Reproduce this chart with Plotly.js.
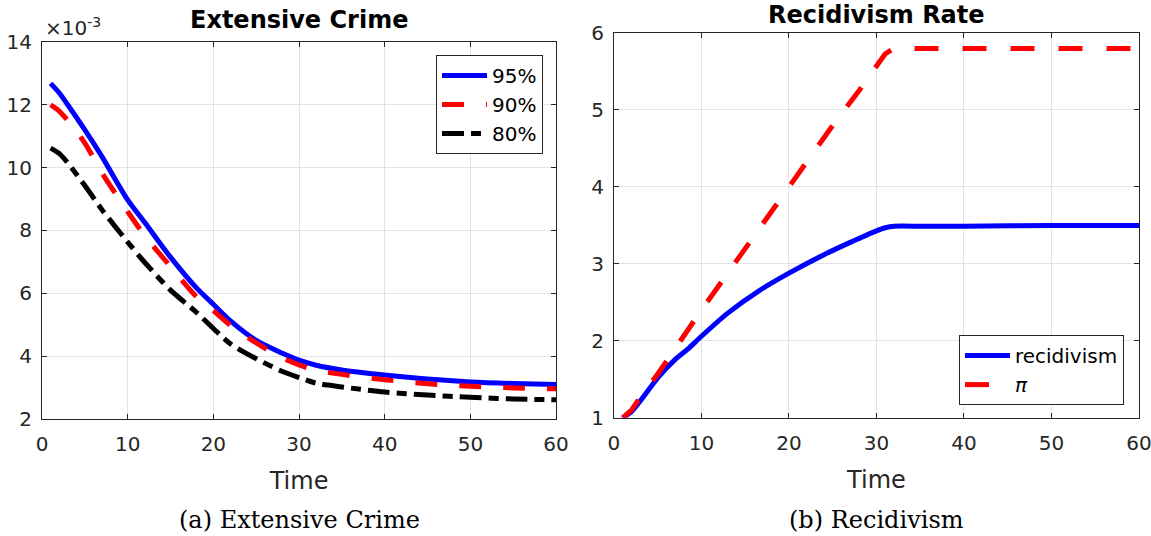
<!DOCTYPE html>
<html>
<head>
<meta charset="utf-8">
<script src="https://cdn.plot.ly/plotly-3.0.1.min.js"></script>
<style>html,body{margin:0;padding:0;background:#fff;}#chart{width:1151px;height:536px;}</style>
</head>
<body>
<div id="chart"></div>
<script>
// ---- Data: (a) Extensive Crime ----
const crimeTime = [1, 2, 3, 5, 7, 10, 12, 15, 18, 20, 22, 25, 28, 30, 32, 35, 40, 45, 50, 55, 60];
const crime95 = [0.01268, 0.01238, 0.01200, 0.01120, 0.01035, 0.00897, 0.00825, 0.00715, 0.00618, 0.00565, 0.00512, 0.00450, 0.00410, 0.00387, 0.00371, 0.00356, 0.00340, 0.00327, 0.00318, 0.00313, 0.00310];
const crime90 = [0.01200, 0.01180, 0.01150, 0.01078, 0.00983, 0.00860, 0.00783, 0.00685, 0.00590, 0.00545, 0.00498, 0.00442, 0.00395, 0.00372, 0.00355, 0.00342, 0.00325, 0.00312, 0.00304, 0.00299, 0.00296];
const crime80 = [0.01062, 0.01045, 0.01015, 0.00943, 0.00866, 0.00763, 0.00698, 0.00610, 0.00540, 0.00488, 0.00439, 0.00392, 0.00352, 0.00332, 0.00314, 0.00302, 0.00286, 0.00276, 0.00269, 0.00264, 0.00261];
const crimeTickVals = [0.002, 0.004, 0.006, 0.008, 0.010, 0.012, 0.014];
const crimeTickText = ["2", "4", "6", "8", "10", "12", "14"];

// ---- Data: (b) Recidivism ----
const recidTime = [1, 2, 3, 5, 7, 8.5, 10, 13, 16.7, 20, 24, 27, 30, 31, 32, 35, 40, 50, 60];
const recidivism = [1.00, 1.08, 1.22, 1.52, 1.76, 1.90, 2.06, 2.36, 2.66, 2.88, 3.12, 3.28, 3.43, 3.47, 3.49, 3.49, 3.49, 3.50, 3.50];
const piTime = [1, 2, 3, 5, 10, 15, 20, 25, 28, 30, 31, 32, 40, 50, 60];
const piRate = [1.00, 1.10, 1.27, 1.57, 2.40, 3.20, 4.02, 4.80, 5.25, 5.58, 5.73, 5.80, 5.80, 5.80, 5.80];

const timeTicks = [0, 10, 20, 30, 40, 50, 60];

const FONT = "DejaVu Sans, Liberation Sans, Arial, sans-serif";
const SERIF = "DejaVu Serif, Liberation Serif, serif";
const AX = "#262626";
const GRID = "#e3e3e3";

const traces = [
  {x: crimeTime, y: crime95, name: "95%", xaxis: "x", yaxis: "y", mode: "lines",
   line: {color: "#0000ff", width: 5, shape: "spline", smoothing: 0.8}, legend: "legend", legendgroup: "a1"},
  {x: crimeTime, y: crime90, name: "90%", xaxis: "x", yaxis: "y", mode: "lines",
   line: {color: "#ff0000", width: 5, dash: "22px,22px", shape: "spline", smoothing: 0.8}, legend: "legend", legendgroup: "a2"},
  {x: crimeTime, y: crime80, name: "80%", xaxis: "x", yaxis: "y", mode: "lines",
   line: {color: "#000000", width: 5, dash: "22px,7px,10px,7px", shape: "spline", smoothing: 0.8}, legend: "legend", legendgroup: "a3"},
  {x: recidTime, y: recidivism, name: "recidivism", xaxis: "x2", yaxis: "y2", mode: "lines",
   line: {color: "#0000ff", width: 5, shape: "spline", smoothing: 0.6}, legend: "legend2", legendgroup: "b1"},
  {x: piTime, y: piRate, name: "<i>π</i>", xaxis: "x2", yaxis: "y2", mode: "lines",
   line: {color: "#ff0000", width: 5, dash: "24px,24px"}, legend: "legend2", legendgroup: "b2"}
];

function xax(domain) {
  return {
    domain: domain, range: [0, 60], tickvals: timeTicks, ticktext: timeTicks.map(String),
    showgrid: true, gridcolor: GRID, gridwidth: 1, zeroline: false,
    showline: true, linecolor: AX, linewidth: 1, mirror: "ticks",
    ticks: "inside", ticklen: 5, tickcolor: AX, ticklabelstandoff: 7,
    ticklabeloverflow: "allow",
    tickfont: {family: FONT, size: 20, color: AX},
    title: {text: "Time", font: {family: FONT, size: 24, color: AX}, standoff: 17}
  };
}
function yax(domain, range, anchor) {
  return {
    domain: domain, range: range, anchor: anchor,
    showgrid: true, gridcolor: GRID, gridwidth: 1, zeroline: false,
    showline: true, linecolor: AX, linewidth: 1, mirror: "ticks",
    ticks: "inside", ticklen: 5, tickcolor: AX, ticklabelstandoff: 5,
    tickfont: {family: FONT, size: 20, color: AX}
  };
}

const yA = yax([0, 0.977], [0.002, 0.014], "x");
yA.tickvals = crimeTickVals; yA.ticktext = crimeTickText;
const yB = yax([0.003, 1], [1, 6], "x2");
yB.tickvals = [1, 2, 3, 4, 5, 6];

const layout = {
  width: 1151, height: 536,
  margin: {l: 42, r: 12, t: 33, b: 117},
  paper_bgcolor: "#ffffff", plot_bgcolor: "#ffffff",
  font: {family: FONT, color: AX},
  showlegend: true,
  xaxis: Object.assign(xax([0, 0.4686]), {anchor: "y"}),
  yaxis: yA,
  xaxis2: Object.assign(xax([0.5214, 1]), {anchor: "y2"}),
  yaxis2: yB,
  legend: {
    x: 0.4567, xanchor: "right", y: 0.943, yanchor: "top",
    bgcolor: "#ffffff", bordercolor: AX, borderwidth: 1,
    font: {family: FONT, size: 20, color: "#000"},
    traceorder: "grouped", tracegroupgap: 0, itemwidth: 45
  },
  legend2: {
    x: 0.9863, xanchor: "right", y: 0.036, yanchor: "bottom",
    bgcolor: "#ffffff", bordercolor: AX, borderwidth: 1,
    font: {family: FONT, size: 20, color: "#000"},
    traceorder: "grouped", tracegroupgap: 0, itemwidth: 45
  },
  annotations: [
    {text: "<b>Extensive Crime</b>", xref: "x domain", yref: "paper", x: 0.5, y: 1.034,
     xanchor: "center", yanchor: "middle", showarrow: false, font: {family: FONT, size: 24, color: "#000"}},
    {text: "<b>Recidivism Rate</b>", xref: "x2 domain", yref: "paper", x: 0.5, y: 1.047,
     xanchor: "center", yanchor: "middle", showarrow: false, font: {family: FONT, size: 24, color: "#000"}},
    {text: "×10<sup>-3</sup>", xref: "x domain", yref: "paper", x: 0, y: 1.016, xshift: 1,
     xanchor: "left", yanchor: "middle", showarrow: false, font: {family: FONT, size: 20, color: AX}},
    {text: "(a) Extensive Crime", xref: "x domain", yref: "paper", x: 0.5, y: -0.262,
     xanchor: "center", yanchor: "middle", showarrow: false, font: {family: SERIF, size: 24, color: "#000"}},
    {text: "(b) Recidivism", xref: "x2 domain", yref: "paper", x: 0.5, y: -0.262,
     xanchor: "center", yanchor: "middle", showarrow: false, font: {family: SERIF, size: 24, color: "#000"}}
  ]
};

Plotly.newPlot("chart", traces, layout, {staticPlot: true, displayModeBar: false});
</script>
</body>
</html>
